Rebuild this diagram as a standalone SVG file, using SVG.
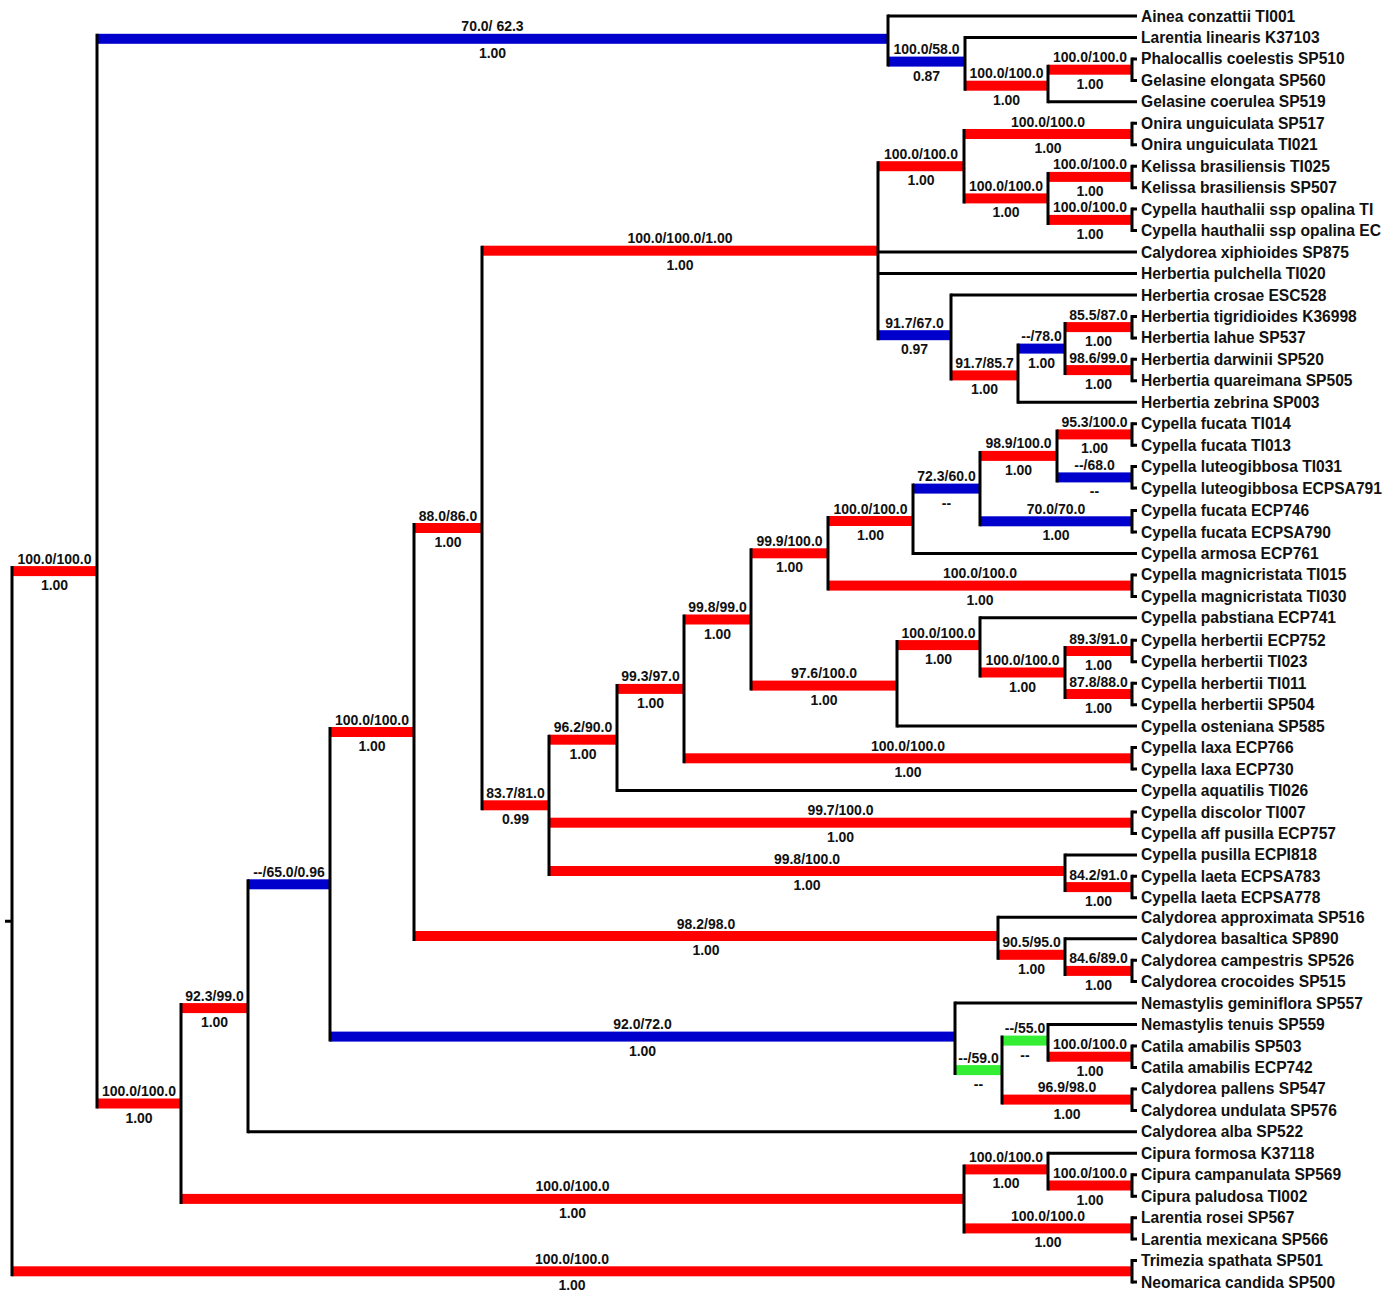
<svg xmlns="http://www.w3.org/2000/svg" width="1386" height="1294" viewBox="0 0 1386 1294">
<style>
.ln{fill:none;stroke:#000;stroke-width:3}
.r{fill:#ff0000}.b{fill:#0000cc}.g{fill:#33ee33}
.lf{font-family:"Liberation Sans",Arial,sans-serif;font-weight:bold;font-size:15.6px;fill:#111}
.lb{font-family:"Liberation Sans",Arial,sans-serif;font-weight:bold;font-size:14px;fill:#111;text-anchor:middle}
</style>
<rect width="1386" height="1294" fill="#fff"/>
<g id="connectors">
<g id="bars">
<rect class="r" x="12" y="566.1" width="85" height="10"/>
<rect class="r" x="12" y="1266.3" width="1120" height="10"/>
<rect class="b" x="97" y="33.8" width="791" height="10"/>
<rect class="r" x="97" y="1098.5" width="84" height="10"/>
<rect class="b" x="888" y="56.6" width="77" height="10"/>
<rect class="r" x="965" y="80.7" width="83" height="10"/>
<rect class="r" x="1048" y="64.7" width="84" height="10"/>
<rect class="r" x="181" y="1003.1" width="67" height="10"/>
<rect class="r" x="181" y="1193.9" width="783" height="10"/>
<rect class="r" x="964" y="1164.4" width="84" height="10"/>
<rect class="r" x="1048" y="1180.5" width="84" height="10"/>
<rect class="r" x="964" y="1223.4" width="168" height="10"/>
<rect class="b" x="248" y="879.3" width="82" height="10"/>
<rect class="r" x="330" y="727" width="84" height="10"/>
<rect class="b" x="330" y="1031.6" width="625" height="10"/>
<rect class="g" x="955" y="1065.1" width="47" height="10"/>
<rect class="g" x="1002" y="1035.6" width="46" height="10"/>
<rect class="r" x="1048" y="1051.7" width="84" height="10"/>
<rect class="r" x="1002" y="1094.6" width="130" height="10"/>
<rect class="r" x="414" y="523" width="68" height="10"/>
<rect class="r" x="414" y="931" width="584" height="10"/>
<rect class="r" x="998" y="949.8" width="67" height="10"/>
<rect class="r" x="1065" y="965.9" width="67" height="10"/>
<rect class="r" x="482" y="245.7" width="396" height="10"/>
<rect class="r" x="482" y="800.3" width="67" height="10"/>
<rect class="r" x="878" y="161.2" width="86" height="10"/>
<rect class="r" x="964" y="129" width="168" height="10"/>
<rect class="r" x="964" y="193.4" width="84" height="10"/>
<rect class="r" x="1048" y="171.9" width="84" height="10"/>
<rect class="r" x="1048" y="214.9" width="84" height="10"/>
<rect class="b" x="878" y="330.2" width="73" height="10"/>
<rect class="r" x="951" y="370.4" width="67" height="10"/>
<rect class="b" x="1018" y="343.6" width="47" height="10"/>
<rect class="r" x="1065" y="322.1" width="67" height="10"/>
<rect class="r" x="1065" y="365.1" width="67" height="10"/>
<rect class="r" x="549" y="734.7" width="68" height="10"/>
<rect class="r" x="549" y="817.7" width="583" height="10"/>
<rect class="r" x="549" y="866" width="516" height="10"/>
<rect class="r" x="1065" y="882.1" width="67" height="10"/>
<rect class="r" x="617" y="683.9" width="67" height="10"/>
<rect class="r" x="684" y="614.5" width="67" height="10"/>
<rect class="r" x="684" y="753.3" width="448" height="10"/>
<rect class="r" x="751" y="548.3" width="77" height="10"/>
<rect class="r" x="751" y="680.6" width="146" height="10"/>
<rect class="r" x="828" y="516" width="85" height="10"/>
<rect class="r" x="828" y="580.6" width="304" height="10"/>
<rect class="b" x="913" y="483.6" width="67" height="10"/>
<rect class="r" x="980" y="450.9" width="77" height="10"/>
<rect class="b" x="980" y="516.3" width="152" height="10"/>
<rect class="r" x="1057" y="429.4" width="75" height="10"/>
<rect class="b" x="1057" y="472.4" width="75" height="10"/>
<rect class="r" x="897" y="640.1" width="83" height="10"/>
<rect class="r" x="980" y="667.5" width="85" height="10"/>
<rect class="r" x="1065" y="646" width="67" height="10"/>
<rect class="r" x="1065" y="689" width="67" height="10"/>
</g>
<path class="ln" d="M5 921.2H12M12 566.1V1276.3M97 33.8V1108.5M888 14.5V66.6M965 36V90.7M1048 64.7V103.3M1132 57.4V81.9M181 1003.1V1203.9M964 1164.4V1233.4M1048 1151.8V1190.5M1132 1173.2V1197.7M1132 1216.2V1240.6M1132 1259.1V1283.5M248 879.3V1133.3M330 727V1041.6M955 1001.6V1075.1M1002 1035.6V1104.6M1048 1023V1061.7M1132 1044.5V1068.9M1132 1087.4V1111.9M414 523V941M998 915.7V959.8M1065 937.2V975.9M1132 958.7V983.1M482 245.7V810.3M878 161.2V340.2M964 129V203.4M1132 121.8V146.2M1048 171.9V224.9M1132 164.7V189.2M1132 207.6V232.1M951 293.5V380.4M1018 343.6V403.7M1065 322.1V375.1M1132 314.9V339.4M1132 357.8V382.3M549 734.7V876M617 683.9V792M684 614.5V763.3M751 548.3V690.6M828 516V590.6M913 483.6V555M980 450.9V526.3M1057 429.4V482.4M1132 422.2V446.7M1132 465.1V489.6M1132 509V533.5M1132 573.4V597.9M897 640.1V727.6M980 616.3V677.5M1065 646V699M1132 638.8V663.2M1132 681.7V706.2M1132 746.1V770.5M1132 810.5V834.9M1065 853.4V892.1M1132 874.8V899.3"/>
<path class="ln" d="M888 16H1137M965 37.5H1137M1132 58.9H1137M1132 80.4H1137M1048 101.8H1137M1132 123.3H1137M1132 144.8H1137M1132 166.2H1137M1132 187.7H1137M1132 209.1H1137M1132 230.6H1137M878 252H1137M878 273.5H1137M951 295H1137M1132 316.4H1137M1132 337.9H1137M1132 359.3H1137M1132 380.8H1137M1018 402.2H1137M1132 423.7H1137M1132 445.2H1137M1132 466.6H1137M1132 488.1H1137M1132 510.5H1137M1132 532H1137M913 553.5H1137M1132 574.9H1137M1132 596.4H1137M980 617.8H1137M1132 640.3H1137M1132 661.7H1137M1132 683.2H1137M1132 704.7H1137M897 726.1H1137M1132 747.6H1137M1132 769H1137M617 790.5H1137M1132 812H1137M1132 833.4H1137M1065 854.9H1137M1132 876.3H1137M1132 897.8H1137M998 917.2H1137M1065 938.7H1137M1132 960.2H1137M1132 981.6H1137M955 1003.1H1137M1048 1024.5H1137M1132 1046H1137M1132 1067.4H1137M1132 1088.9H1137M1132 1110.4H1137M248 1131.8H1137M1048 1153.3H1137M1132 1174.7H1137M1132 1196.2H1137M1132 1217.7H1137M1132 1239.1H1137M1132 1260.6H1137M1132 1282H1137"/>
</g>
<g id="support-labels">
<g id="n1"><text class="lb" x="54.5" y="563.6">100.0/100.0</text><text class="lb" x="54.5" y="590.1">1.00</text></g>
<g id="n2"><text class="lb" x="572" y="1263.8">100.0/100.0</text><text class="lb" x="572" y="1290.3">1.00</text></g>
<g id="n3"><text class="lb" x="492.5" y="31.3">70.0/ 62.3</text><text class="lb" x="492.5" y="57.8">1.00</text></g>
<g id="n4"><text class="lb" x="139" y="1096">100.0/100.0</text><text class="lb" x="139" y="1122.5">1.00</text></g>
<g id="n5"><text class="lb" x="926.5" y="54.1">100.0/58.0</text><text class="lb" x="926.5" y="80.6">0.87</text></g>
<g id="n6"><text class="lb" x="1006.5" y="78.2">100.0/100.0</text><text class="lb" x="1006.5" y="104.7">1.00</text></g>
<g id="n7"><text class="lb" x="1090" y="62.2">100.0/100.0</text><text class="lb" x="1090" y="88.7">1.00</text></g>
<g id="n8"><text class="lb" x="214.5" y="1000.6">92.3/99.0</text><text class="lb" x="214.5" y="1027.1">1.00</text></g>
<g id="n9"><text class="lb" x="572.5" y="1191.4">100.0/100.0</text><text class="lb" x="572.5" y="1217.9">1.00</text></g>
<g id="n10"><text class="lb" x="1006" y="1161.9">100.0/100.0</text><text class="lb" x="1006" y="1188.4">1.00</text></g>
<g id="n11"><text class="lb" x="1090" y="1178">100.0/100.0</text><text class="lb" x="1090" y="1204.5">1.00</text></g>
<g id="n12"><text class="lb" x="1048" y="1220.9">100.0/100.0</text><text class="lb" x="1048" y="1247.4">1.00</text></g>
<g id="n13"><text class="lb" x="289" y="876.8">--/65.0/0.96</text></g>
<g id="n14"><text class="lb" x="372" y="724.5">100.0/100.0</text><text class="lb" x="372" y="751">1.00</text></g>
<g id="n15"><text class="lb" x="642.5" y="1029.1">92.0/72.0</text><text class="lb" x="642.5" y="1055.6">1.00</text></g>
<g id="n16"><text class="lb" x="978.5" y="1062.6">--/59.0</text><text class="lb" x="978.5" y="1089.1">--</text></g>
<g id="n17"><text class="lb" x="1025" y="1033.1">--/55.0</text><text class="lb" x="1025" y="1059.6">--</text></g>
<g id="n18"><text class="lb" x="1090" y="1049.2">100.0/100.0</text><text class="lb" x="1090" y="1075.7">1.00</text></g>
<g id="n19"><text class="lb" x="1067" y="1092.1">96.9/98.0</text><text class="lb" x="1067" y="1118.6">1.00</text></g>
<g id="n20"><text class="lb" x="448" y="520.5">88.0/86.0</text><text class="lb" x="448" y="547">1.00</text></g>
<g id="n21"><text class="lb" x="706" y="928.5">98.2/98.0</text><text class="lb" x="706" y="955">1.00</text></g>
<g id="n22"><text class="lb" x="1031.5" y="947.3">90.5/95.0</text><text class="lb" x="1031.5" y="973.8">1.00</text></g>
<g id="n23"><text class="lb" x="1098.5" y="963.4">84.6/89.0</text><text class="lb" x="1098.5" y="989.9">1.00</text></g>
<g id="n24"><text class="lb" x="680" y="243.2">100.0/100.0/1.00</text><text class="lb" x="680" y="269.7">1.00</text></g>
<g id="n25"><text class="lb" x="515.5" y="797.8">83.7/81.0</text><text class="lb" x="515.5" y="824.3">0.99</text></g>
<g id="n26"><text class="lb" x="921" y="158.7">100.0/100.0</text><text class="lb" x="921" y="185.2">1.00</text></g>
<g id="n27"><text class="lb" x="1048" y="126.5">100.0/100.0</text><text class="lb" x="1048" y="153">1.00</text></g>
<g id="n28"><text class="lb" x="1006" y="190.9">100.0/100.0</text><text class="lb" x="1006" y="217.4">1.00</text></g>
<g id="n29"><text class="lb" x="1090" y="169.4">100.0/100.0</text><text class="lb" x="1090" y="195.9">1.00</text></g>
<g id="n30"><text class="lb" x="1090" y="212.4">100.0/100.0</text><text class="lb" x="1090" y="238.9">1.00</text></g>
<g id="n31"><text class="lb" x="914.5" y="327.7">91.7/67.0</text><text class="lb" x="914.5" y="354.2">0.97</text></g>
<g id="n32"><text class="lb" x="984.5" y="367.9">91.7/85.7</text><text class="lb" x="984.5" y="394.4">1.00</text></g>
<g id="n33"><text class="lb" x="1041.5" y="341.1">--/78.0</text><text class="lb" x="1041.5" y="367.6">1.00</text></g>
<g id="n34"><text class="lb" x="1098.5" y="319.6">85.5/87.0</text><text class="lb" x="1098.5" y="346.1">1.00</text></g>
<g id="n35"><text class="lb" x="1098.5" y="362.6">98.6/99.0</text><text class="lb" x="1098.5" y="389.1">1.00</text></g>
<g id="n36"><text class="lb" x="583" y="732.2">96.2/90.0</text><text class="lb" x="583" y="758.7">1.00</text></g>
<g id="n37"><text class="lb" x="840.5" y="815.2">99.7/100.0</text><text class="lb" x="840.5" y="841.7">1.00</text></g>
<g id="n38"><text class="lb" x="807" y="863.5">99.8/100.0</text><text class="lb" x="807" y="890">1.00</text></g>
<g id="n39"><text class="lb" x="1098.5" y="879.6">84.2/91.0</text><text class="lb" x="1098.5" y="906.1">1.00</text></g>
<g id="n40"><text class="lb" x="650.5" y="681.4">99.3/97.0</text><text class="lb" x="650.5" y="707.9">1.00</text></g>
<g id="n41"><text class="lb" x="717.5" y="612">99.8/99.0</text><text class="lb" x="717.5" y="638.5">1.00</text></g>
<g id="n42"><text class="lb" x="908" y="750.8">100.0/100.0</text><text class="lb" x="908" y="777.3">1.00</text></g>
<g id="n43"><text class="lb" x="789.5" y="545.8">99.9/100.0</text><text class="lb" x="789.5" y="572.3">1.00</text></g>
<g id="n44"><text class="lb" x="824" y="678.1">97.6/100.0</text><text class="lb" x="824" y="704.6">1.00</text></g>
<g id="n45"><text class="lb" x="870.5" y="513.5">100.0/100.0</text><text class="lb" x="870.5" y="540">1.00</text></g>
<g id="n46"><text class="lb" x="980" y="578.1">100.0/100.0</text><text class="lb" x="980" y="604.6">1.00</text></g>
<g id="n47"><text class="lb" x="946.5" y="481.1">72.3/60.0</text><text class="lb" x="946.5" y="507.6">--</text></g>
<g id="n48"><text class="lb" x="1018.5" y="448.4">98.9/100.0</text><text class="lb" x="1018.5" y="474.9">1.00</text></g>
<g id="n49"><text class="lb" x="1056" y="513.8">70.0/70.0</text><text class="lb" x="1056" y="540.3">1.00</text></g>
<g id="n50"><text class="lb" x="1094.5" y="426.9">95.3/100.0</text><text class="lb" x="1094.5" y="453.4">1.00</text></g>
<g id="n51"><text class="lb" x="1094.5" y="469.9">--/68.0</text><text class="lb" x="1094.5" y="496.4">--</text></g>
<g id="n52"><text class="lb" x="938.5" y="637.6">100.0/100.0</text><text class="lb" x="938.5" y="664.1">1.00</text></g>
<g id="n53"><text class="lb" x="1022.5" y="665">100.0/100.0</text><text class="lb" x="1022.5" y="691.5">1.00</text></g>
<g id="n54"><text class="lb" x="1098.5" y="643.5">89.3/91.0</text><text class="lb" x="1098.5" y="670">1.00</text></g>
<g id="n55"><text class="lb" x="1098.5" y="686.5">87.8/88.0</text><text class="lb" x="1098.5" y="713">1.00</text></g>
</g>
<g id="leaves">
<g id="leaf0"><text class="lf" x="1141" y="21.5">Ainea conzattii TI001</text></g>
<g id="leaf1"><text class="lf" x="1141" y="43">Larentia linearis K37103</text></g>
<g id="leaf2"><text class="lf" x="1141" y="64.4">Phalocallis coelestis SP510</text></g>
<g id="leaf3"><text class="lf" x="1141" y="85.9">Gelasine elongata SP560</text></g>
<g id="leaf4"><text class="lf" x="1141" y="107.3">Gelasine coerulea SP519</text></g>
<g id="leaf5"><text class="lf" x="1141" y="128.8">Onira unguiculata SP517</text></g>
<g id="leaf6"><text class="lf" x="1141" y="150.3">Onira unguiculata TI021</text></g>
<g id="leaf7"><text class="lf" x="1141" y="171.7">Kelissa brasiliensis TI025</text></g>
<g id="leaf8"><text class="lf" x="1141" y="193.2">Kelissa brasiliensis SP507</text></g>
<g id="leaf9"><text class="lf" x="1141" y="214.6">Cypella hauthalii ssp opalina TI</text></g>
<g id="leaf10"><text class="lf" x="1141" y="236.1">Cypella hauthalii ssp opalina EC</text></g>
<g id="leaf11"><text class="lf" x="1141" y="257.5">Calydorea xiphioides SP875</text></g>
<g id="leaf12"><text class="lf" x="1141" y="279">Herbertia pulchella TI020</text></g>
<g id="leaf13"><text class="lf" x="1141" y="300.5">Herbertia crosae ESC528</text></g>
<g id="leaf14"><text class="lf" x="1141" y="321.9">Herbertia tigridioides K36998</text></g>
<g id="leaf15"><text class="lf" x="1141" y="343.4">Herbertia lahue SP537</text></g>
<g id="leaf16"><text class="lf" x="1141" y="364.8">Herbertia darwinii SP520</text></g>
<g id="leaf17"><text class="lf" x="1141" y="386.3">Herbertia quareimana SP505</text></g>
<g id="leaf18"><text class="lf" x="1141" y="407.7">Herbertia zebrina SP003</text></g>
<g id="leaf19"><text class="lf" x="1141" y="429.2">Cypella fucata TI014</text></g>
<g id="leaf20"><text class="lf" x="1141" y="450.7">Cypella fucata TI013</text></g>
<g id="leaf21"><text class="lf" x="1141" y="472.1">Cypella luteogibbosa TI031</text></g>
<g id="leaf22"><text class="lf" x="1141" y="493.6">Cypella luteogibbosa ECPSA791</text></g>
<g id="leaf23"><text class="lf" x="1141" y="516">Cypella fucata ECP746</text></g>
<g id="leaf24"><text class="lf" x="1141" y="537.5">Cypella fucata ECPSA790</text></g>
<g id="leaf25"><text class="lf" x="1141" y="559">Cypella armosa ECP761</text></g>
<g id="leaf26"><text class="lf" x="1141" y="580.4">Cypella magnicristata TI015</text></g>
<g id="leaf27"><text class="lf" x="1141" y="601.9">Cypella magnicristata TI030</text></g>
<g id="leaf28"><text class="lf" x="1141" y="623.3">Cypella pabstiana ECP741</text></g>
<g id="leaf29"><text class="lf" x="1141" y="645.8">Cypella herbertii ECP752</text></g>
<g id="leaf30"><text class="lf" x="1141" y="667.2">Cypella herbertii TI023</text></g>
<g id="leaf31"><text class="lf" x="1141" y="688.7">Cypella herbertii TI011</text></g>
<g id="leaf32"><text class="lf" x="1141" y="710.2">Cypella herbertii SP504</text></g>
<g id="leaf33"><text class="lf" x="1141" y="731.6">Cypella osteniana SP585</text></g>
<g id="leaf34"><text class="lf" x="1141" y="753.1">Cypella laxa ECP766</text></g>
<g id="leaf35"><text class="lf" x="1141" y="774.5">Cypella laxa ECP730</text></g>
<g id="leaf36"><text class="lf" x="1141" y="796">Cypella aquatilis TI026</text></g>
<g id="leaf37"><text class="lf" x="1141" y="817.5">Cypella discolor TI007</text></g>
<g id="leaf38"><text class="lf" x="1141" y="838.9">Cypella aff pusilla ECP757</text></g>
<g id="leaf39"><text class="lf" x="1141" y="860.4">Cypella pusilla ECPI818</text></g>
<g id="leaf40"><text class="lf" x="1141" y="881.8">Cypella laeta ECPSA783</text></g>
<g id="leaf41"><text class="lf" x="1141" y="903.3">Cypella laeta ECPSA778</text></g>
<g id="leaf42"><text class="lf" x="1141" y="922.7">Calydorea approximata SP516</text></g>
<g id="leaf43"><text class="lf" x="1141" y="944.2">Calydorea basaltica SP890</text></g>
<g id="leaf44"><text class="lf" x="1141" y="965.7">Calydorea campestris SP526</text></g>
<g id="leaf45"><text class="lf" x="1141" y="987.1">Calydorea crocoides SP515</text></g>
<g id="leaf46"><text class="lf" x="1141" y="1008.6">Nemastylis geminiflora SP557</text></g>
<g id="leaf47"><text class="lf" x="1141" y="1030">Nemastylis tenuis SP559</text></g>
<g id="leaf48"><text class="lf" x="1141" y="1051.5">Catila amabilis SP503</text></g>
<g id="leaf49"><text class="lf" x="1141" y="1072.9">Catila amabilis ECP742</text></g>
<g id="leaf50"><text class="lf" x="1141" y="1094.4">Calydorea pallens SP547</text></g>
<g id="leaf51"><text class="lf" x="1141" y="1115.9">Calydorea undulata SP576</text></g>
<g id="leaf52"><text class="lf" x="1141" y="1137.3">Calydorea alba SP522</text></g>
<g id="leaf53"><text class="lf" x="1141" y="1158.8">Cipura formosa K37118</text></g>
<g id="leaf54"><text class="lf" x="1141" y="1180.2">Cipura campanulata SP569</text></g>
<g id="leaf55"><text class="lf" x="1141" y="1201.7">Cipura paludosa TI002</text></g>
<g id="leaf56"><text class="lf" x="1141" y="1223.2">Larentia rosei SP567</text></g>
<g id="leaf57"><text class="lf" x="1141" y="1244.6">Larentia mexicana SP566</text></g>
<g id="leaf58"><text class="lf" x="1141" y="1266.1">Trimezia spathata SP501</text></g>
<g id="leaf59"><text class="lf" x="1141" y="1287.5">Neomarica candida SP500</text></g>
</g>
</svg>
